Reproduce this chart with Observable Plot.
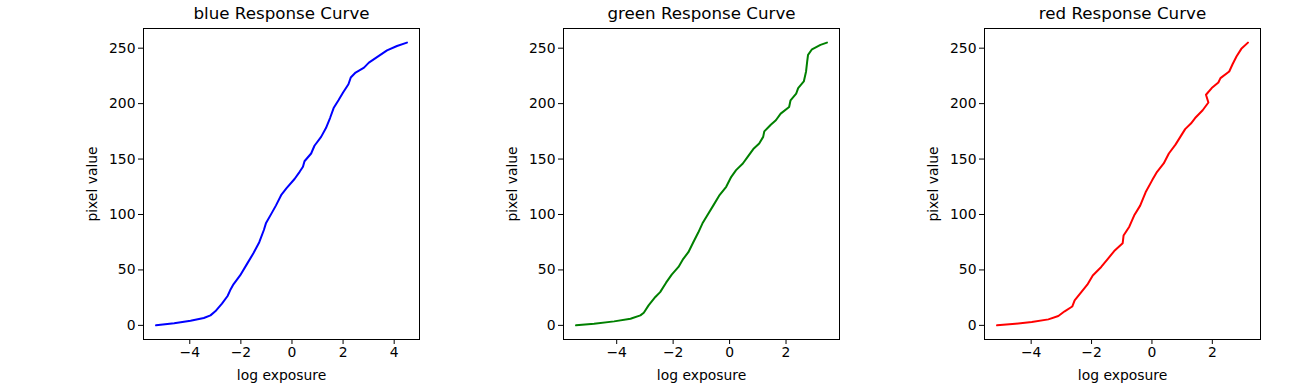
<!DOCTYPE html>
<html>
<head>
<meta charset="utf-8">
<script src="https://cdn.jsdelivr.net/npm/d3@7"></script>
<script src="https://cdn.jsdelivr.net/npm/@observablehq/plot@0.6"></script>
<style>
  html, body { margin: 0; padding: 0; background: #fff; }
  #fig { position: relative; width: 1291px; height: 386px; overflow: hidden; }
  .panel { position: absolute; top: 0; }
</style>
</head>
<body>
<div id="fig"></div>
<script>
// ---- data ----
const channels = ["blue", "green", "red"];
const lineColors = ["#0000ff", "#008000", "#ff0000"];

const blueX = [-5.32,-4.61,-3.97,-3.45,-3.19,-3.0,-2.74,-2.52,-2.42,-2.29,-2.03,-1.77,-1.51,-1.28,-1.10,-1.02,-0.80,-0.63,-0.41,-0.22,0.10,0.30,0.43,0.49,0.75,0.88,1.14,1.33,1.49,1.63,1.82,2.00,2.21,2.30,2.49,2.82,3.01,3.40,3.72,4.11,4.50];
const blueY = [0,2,4.2,6.6,9,12.7,19.6,26.5,31.6,37,45,55,65,75,86,92,101,108,118,123.5,132,138.5,143,148,155,162,170,178,187,196,203,210,217.5,223.5,228,232.5,237,243,248,252,255];

const greenX = [-5.44,-4.80,-4.09,-3.51,-3.16,-3.04,-2.87,-2.63,-2.46,-2.25,-2.05,-1.81,-1.64,-1.46,-1.29,-1.11,-0.96,-0.82,-0.58,-0.37,-0.12,0.06,0.23,0.47,0.64,0.84,1.05,1.19,1.23,1.46,1.64,1.81,2.11,2.16,2.36,2.43,2.63,2.71,2.75,2.78,2.92,3.22,3.45];
const greenY = [0,1.5,3.6,6,9,11.4,18,25.6,30,38.5,45.8,52.7,60,66,74.7,83.7,92,98,108,117,125,134,140,146,152,159,164,170,175,181,185,191,197,203,209,214,220,229,238,244,249,253,255];

const redX = [-5.13,-4.52,-3.98,-3.43,-3.10,-2.89,-2.64,-2.56,-2.34,-2.14,-1.96,-1.68,-1.46,-1.25,-0.97,-0.94,-0.75,-0.59,-0.39,-0.21,0.01,0.17,0.39,0.56,0.78,0.94,1.10,1.29,1.43,1.68,1.87,1.79,1.98,2.20,2.27,2.56,2.67,2.80,2.96,3.18];
const redY = [0,1.5,3,5.4,8.4,12.7,17,22.6,30,36.7,45,52.7,60,67,74,81,89,99,108,120,131,138.5,146,155,163,170,177,182,187,194,201,208,214,219,223,229,235.5,242.5,249.4,255];

const xTickValues = [[-4,-2,0,2,4], [-4,-2,0,2], [-4,-2,0,2]];
const yTickValues = [0,50,100,150,200,250];
const xLabel = "log exposure";
const yLabel = "pixel value";
const titleSuffix = " Response Curve";

// ---- layout ----
const frameLefts = [143, 563, 984];
const frameW = 276;
const mL = 70, mR = 10, mT = 28, mB = 47;
const H = 386;
const font = "DejaVu Sans, sans-serif";
const fmt = d => d < 0 ? "\u2212" + Math.abs(d) : String(d);

function pad(arr) {
  const lo = d3.min(arr), hi = d3.max(arr), r = hi - lo;
  return [lo - 0.05 * r, hi + 0.05 * r];
}

const series = [[blueX, blueY], [greenX, greenY], [redX, redY]];
const fig = document.getElementById("fig");

series.forEach(([xs, ys], i) => {
  const data = xs.map((x, k) => ({x, y: ys[k]}));
  const chart = Plot.plot({
    width: mL + frameW + mR,
    height: H,
    marginLeft: mL, marginRight: mR, marginTop: mT, marginBottom: mB,
    style: {fontFamily: font, fontSize: "13.9px", color: "#000", background: "transparent", overflow: "visible"},
    x: {domain: pad(xs), ticks: xTickValues[i], tickFormat: fmt},
    y: {domain: pad(ys), ticks: yTickValues, tickFormat: fmt},
    marks: [
      Plot.axisX({ticks: xTickValues[i], tickFormat: fmt, tickSize: 5, tickPadding: 3, label: xLabel, labelAnchor: "center", labelArrow: "none", labelOffset: 40, fontSize: 13.9}),
      Plot.axisY({ticks: yTickValues, tickFormat: fmt, tickSize: 5, tickPadding: 3, label: yLabel, labelAnchor: "center", labelArrow: "none", labelOffset: 56, fontSize: 13.9}),
      Plot.line(data, {x: "x", y: "y", stroke: lineColors[i], strokeWidth: 2, curve: "linear"}),
      Plot.frame({stroke: "#000", strokeWidth: 1}),
      Plot.text([channels[i] + titleSuffix], {frameAnchor: "top", lineAnchor: "bottom", dy: -10, fontSize: 16.7, fill: "#000"})
    ]
  });
  chart.classList.add("panel");
  chart.style.left = (frameLefts[i] - mL) + "px";
  fig.appendChild(chart);
});
</script>
</body>
</html>
